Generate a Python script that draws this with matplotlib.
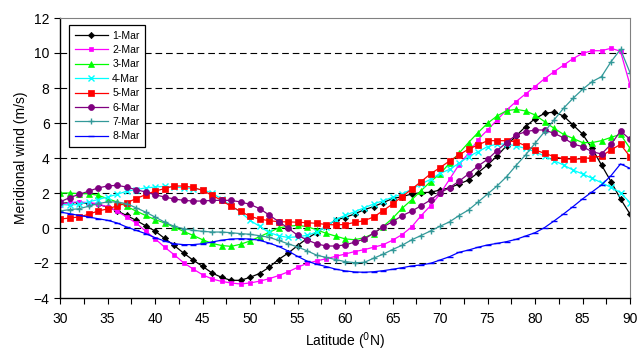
import numpy as np
import matplotlib
matplotlib.use('Agg')
import matplotlib.pyplot as plt
from matplotlib.ticker import MultipleLocator

latitudes = np.arange(30, 91)

mar1 = [1.4, 1.45, 1.45, 1.4, 1.35, 1.2, 0.98, 0.72, 0.44, 0.13,
        -0.17, -0.59, -0.99, -1.43, -1.83, -2.19, -2.57, -2.82, -2.99, -2.99,
        -2.82, -2.6, -2.25, -1.8, -1.44, -1.01, -0.6, -0.27, 0.1, 0.45,
        0.6, 0.8, 1.04, 1.22, 1.45, 1.68, 1.79, 1.94, 2.02, 2.04,
        2.17, 2.3, 2.51, 2.74, 3.16, 3.6, 4.11, 4.7, 5.26, 5.79,
        6.25, 6.55, 6.63, 6.4, 5.89, 5.37, 4.55, 3.6, 2.65, 1.66,
        0.8]
mar2 = [1.3, 1.45, 1.49, 1.45, 1.39, 1.2, 0.97, 0.63, 0.29, -0.17,
        -0.61, -1.09, -1.52, -1.98, -2.34, -2.67, -2.91, -3.05, -3.14, -3.2,
        -3.14, -3.04, -2.9, -2.72, -2.51, -2.25, -2.02, -1.88, -1.76, -1.62,
        -1.49, -1.35, -1.24, -1.1, -0.96, -0.7, -0.38, 0.05, 0.7, 1.27,
        1.95, 2.78, 3.62, 4.27, 5.05, 5.6, 6.17, 6.74, 7.22, 7.66,
        8.08, 8.53, 8.93, 9.3, 9.68, 9.98, 10.13, 10.13, 10.27, 10.1,
        8.17]
mar3 = [2.0, 2.0, 1.96, 1.96, 1.87, 1.68, 1.49, 1.24, 0.97, 0.72,
        0.48, 0.29, 0.06, -0.19, -0.42, -0.67, -0.88, -1.0, -1.05, -0.93,
        -0.74, -0.5, -0.25, 0.0, 0.1, 0.15, 0.08, -0.1, -0.3, -0.46,
        -0.62, -0.67, -0.56, -0.32, 0.08, 0.55, 1.12, 1.6, 2.13, 2.65,
        3.09, 3.7, 4.27, 4.88, 5.45, 5.98, 6.4, 6.7, 6.78, 6.69,
        6.46, 6.08, 5.7, 5.35, 5.12, 4.88, 4.88, 4.99, 5.18, 5.35,
        4.55]
mar4 = [1.35, 1.31, 1.35, 1.49, 1.62, 1.77, 1.92, 2.1, 2.19, 2.29,
        2.34, 2.38, 2.34, 2.3, 2.25, 2.19, 2.0, 1.66, 1.28, 0.91,
        0.44, 0.1, -0.25, -0.44, -0.54, -0.5, -0.42, -0.24, 0.08, 0.48,
        0.72, 0.93, 1.15, 1.37, 1.56, 1.75, 1.94, 2.21, 2.51, 2.78,
        3.12, 3.35, 3.7, 4.08, 4.36, 4.65, 4.8, 4.8, 4.69, 4.55,
        4.36, 4.11, 3.85, 3.6, 3.31, 3.09, 2.84, 2.59, 2.32, 2.02,
        1.45]
mar5 = [0.51, 0.57, 0.63, 0.78, 0.97, 1.09, 1.26, 1.43, 1.68, 1.9,
        2.11, 2.25, 2.4, 2.4, 2.32, 2.15, 1.87, 1.58, 1.24, 0.95,
        0.67, 0.51, 0.42, 0.36, 0.35, 0.33, 0.3, 0.27, 0.2, 0.18,
        0.2, 0.32, 0.42, 0.62, 0.99, 1.37, 1.79, 2.21, 2.65, 3.09,
        3.45, 3.83, 4.17, 4.51, 4.74, 4.99, 4.99, 4.99, 4.93, 4.7,
        4.46, 4.27, 4.08, 3.96, 3.92, 3.96, 4.02, 4.11, 4.46, 4.78,
        4.08]
mar6 = [1.49, 1.73, 1.92, 2.1, 2.29, 2.4, 2.44, 2.34, 2.19, 2.06,
        1.9, 1.77, 1.66, 1.58, 1.54, 1.54, 1.58, 1.58, 1.58, 1.49,
        1.35, 1.11, 0.75, 0.37, 0.0, -0.41, -0.68, -0.9, -1.03, -1.03,
        -0.97, -0.81, -0.64, -0.3, 0.06, 0.36, 0.7, 0.96, 1.27, 1.6,
        2.0, 2.31, 2.67, 3.09, 3.54, 3.92, 4.42, 4.88, 5.31, 5.5,
        5.6, 5.6, 5.41, 5.16, 4.8, 4.65, 4.36, 4.23, 4.78, 5.54,
        5.07]
mar7 = [0.97, 1.05, 1.1, 1.24, 1.39, 1.49, 1.49, 1.39, 1.16, 0.91,
        0.63, 0.34, 0.1, -0.04, -0.13, -0.19, -0.23, -0.23, -0.27, -0.32,
        -0.36, -0.44, -0.53, -0.71, -0.9, -1.08, -1.3, -1.55, -1.68, -1.8,
        -1.92, -1.98, -1.97, -1.73, -1.5, -1.23, -0.99, -0.68, -0.43, -0.17,
        0.1, 0.35, 0.71, 1.03, 1.48, 1.94, 2.4, 2.93, 3.57, 4.17,
        4.84, 5.5, 6.17, 6.84, 7.41, 7.92, 8.36, 8.65, 9.5, 10.21,
        8.88]
mar8 = [0.91, 0.82, 0.72, 0.63, 0.53, 0.44, 0.29, 0.06, -0.13, -0.32,
        -0.55, -0.74, -0.9, -0.95, -0.95, -0.9, -0.8, -0.7, -0.63, -0.61,
        -0.63, -0.7, -0.86, -1.05, -1.31, -1.62, -1.89, -2.07, -2.2, -2.35,
        -2.45, -2.51, -2.53, -2.5, -2.44, -2.36, -2.27, -2.17, -2.11, -2.02,
        -1.83, -1.64, -1.39, -1.26, -1.1, -0.97, -0.88, -0.78, -0.65, -0.46,
        -0.27, 0.02, 0.4, 0.8, 1.22, 1.66, 2.06, 2.46, 2.99, 3.66,
        3.41]

labels = ['1-Mar', '2-Mar', '3-Mar', '4-Mar', '5-Mar', '6-Mar', '7-Mar', '8-Mar']
series = [mar1, mar2, mar3, mar4, mar5, mar6, mar7, mar8]
colors = ['#000000', '#FF00FF', '#00FF00', '#00FFFF', '#FF0000', '#800080', '#339999', '#0000FF']
markers = ['D', 's', '^', 'x', 's', 'o', '+', '_']
msizes = [3.2, 2.3, 5, 4, 5, 4.3, 5, 4]

plt.rcParams['font.family'] = ['Liberation Sans', 'DejaVu Sans']

fig = plt.figure(figsize=(6.38, 3.51), dpi=100)
ax = fig.add_axes([60 / 638, 1 - 298 / 351, 570 / 638, 280 / 351])

for vals, lab, c, m, s in zip(series, labels, colors, markers, msizes):
    ax.plot(latitudes, vals, color=c, marker=m, markersize=s, lw=0.9,
            markeredgewidth=1.0 if m in 'x+_' else 0.5, label=lab)

ax.set_xlim(30, 90)
ax.set_ylim(-4, 12)
ax.xaxis.set_major_locator(MultipleLocator(5))
ax.xaxis.set_minor_locator(MultipleLocator(2.5))
ax.yaxis.set_major_locator(MultipleLocator(2))
ax.tick_params(axis='both', which='both', direction='out', length=4, width=0.8,
               labelsize=10, colors='black')
ax.tick_params(axis='x', which='major', pad=6)

for yv in [-2, 0, 2, 4, 6, 8, 10]:
    ax.axhline(yv, color='black', lw=0.8, linestyle=(0, (6, 3.5)), zorder=0)

ax.spines['top'].set_color('#808080')
ax.spines['right'].set_color('#808080')
ax.spines['left'].set_linewidth(1.0)
ax.spines['bottom'].set_linewidth(1.0)

ax.set_ylabel('Meridional wind (m/s)', fontsize=10, labelpad=4)
ax.set_xlabel(r'Latitude ($^0$N)', fontsize=10, labelpad=3)

leg = ax.legend(loc='upper left', bbox_to_anchor=(9 / 570, 273 / 280), borderaxespad=0,
                fontsize=7.5, handlelength=3.2, labelspacing=0.42, fancybox=False,
                framealpha=1, edgecolor='black', borderpad=0.55, handletextpad=0.4)
leg.get_frame().set_linewidth(0.9)

fig.savefig('out.png', dpi=100)
